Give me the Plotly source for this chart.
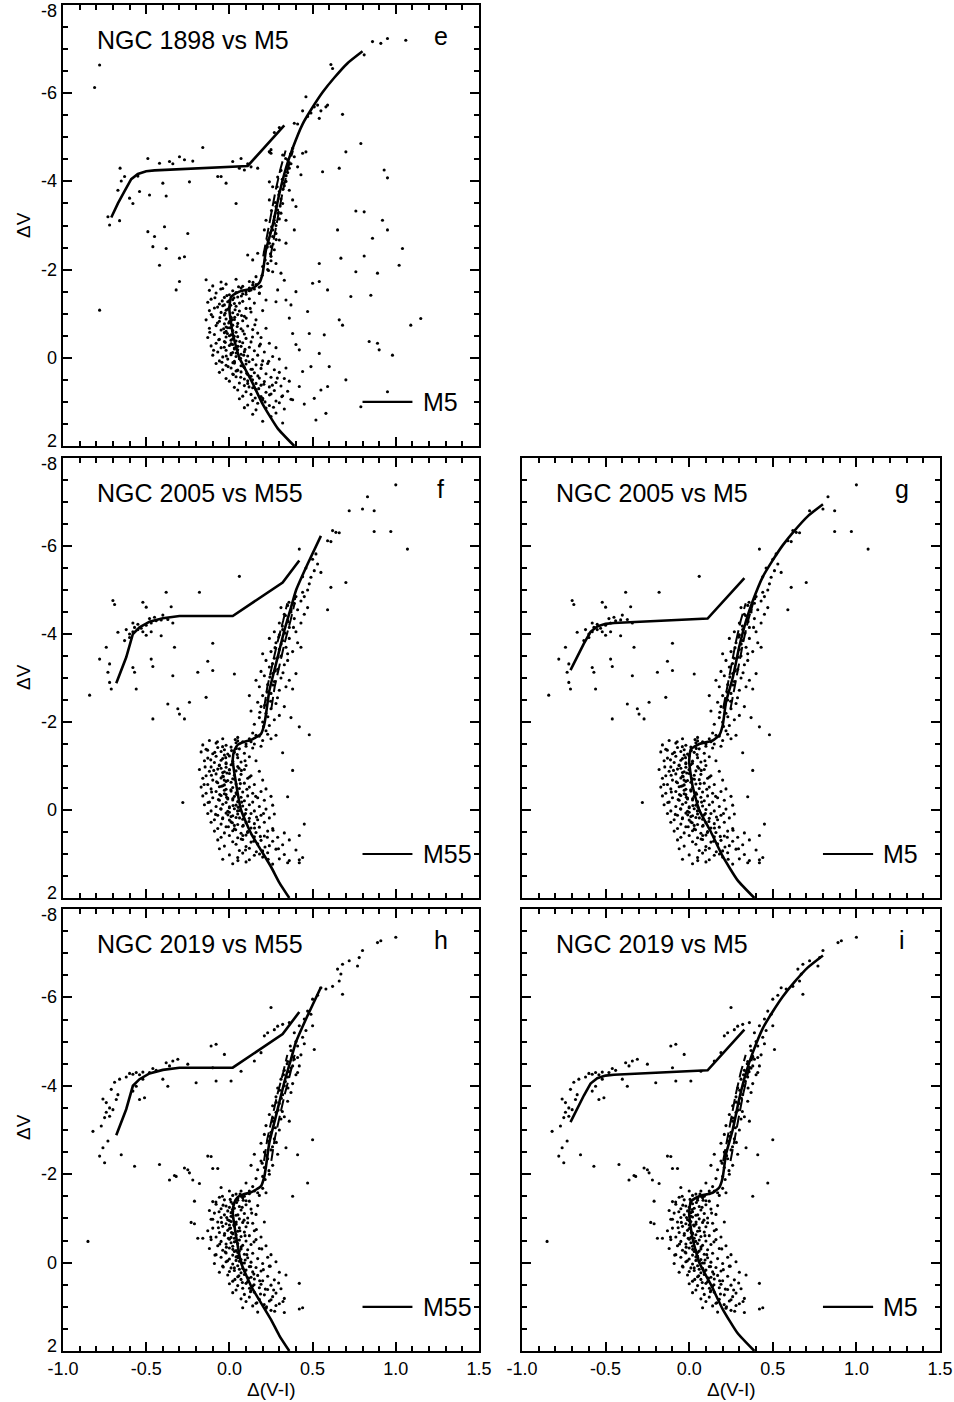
import plotly.graph_objects as go

# ---------------- fiducial sequences ----------------
m5_x = [0.39, 0.29, 0.20, 0.13, 0.06, 0.02, 0.00, 0.01, 0.06, 0.14, 0.18, 0.20, 0.22, 0.26, 0.30, 0.34, 0.38, 0.44, 0.50, 0.56, 0.63, 0.71, 0.80]
m5_y = [2.00, 1.60, 1.05, 0.50, 0.00, -0.55, -1.10, -1.38, -1.50, -1.58, -1.70, -1.92, -2.45, -3.00, -3.72, -4.30, -4.75, -5.30, -5.68, -6.02, -6.35, -6.68, -6.95]
m5_hb_x = [-0.71, -0.67, -0.63, -0.59, -0.55, -0.50, -0.45, 0.11, 0.33]
m5_hb_y = [-3.18, -3.50, -3.78, -4.05, -4.17, -4.23, -4.25, -4.35, -5.27]
m55_x = [0.36, 0.30, 0.25, 0.18, 0.13, 0.07, 0.04, 0.02, 0.03, 0.05, 0.09, 0.13, 0.19, 0.21, 0.22, 0.24, 0.28, 0.33, 0.37, 0.40, 0.47, 0.55]
m55_y = [2.00, 1.65, 1.29, 0.85, 0.53, 0.00, -0.60, -1.14, -1.36, -1.48, -1.55, -1.59, -1.73, -1.95, -2.18, -2.71, -3.32, -4.08, -4.60, -4.99, -5.59, -6.23]
m55_hb_x = [-0.68, -0.62, -0.58, -0.54, -0.48, -0.40, -0.30, 0.02, 0.32, 0.42]
m55_hb_y = [-2.88, -3.47, -4.00, -4.15, -4.28, -4.36, -4.41, -4.41, -5.17, -5.67]
# cluster RGB ridge (dashed pair)
ridge_y = [-2.3, -2.8, -3.3, -3.8, -4.3, -4.7]
ridge_m5_x = [0.225, 0.25, 0.275, 0.30, 0.33, 0.36]
ridge_m55_x = [0.23, 0.25, 0.28, 0.31, 0.345, 0.37]

# ---------------- NGC 1898 stars ----------------
n1898_ms = [(-0.14,-1.77),(-0.05,-1.72),(0.04,-1.78),(0.12,-1.73),(-0.10,-1.63),(-0.02,-1.67),(0.08,-1.62),(0.16,-1.66),
(-0.12,-1.53),(-0.04,-1.57),(0.02,-1.52),(0.07,-1.58),(0.13,-1.54),(-0.08,-1.47),(0.00,-1.43),(0.04,-1.48),(0.10,-1.44),(0.18,-1.47),
(-0.11,-1.33),(-0.03,-1.37),(0.02,-1.32),(0.05,-1.38),(0.12,-1.34),(-0.13,-1.26),(-0.06,-1.22),(-0.01,-1.27),(0.03,-1.23),(0.08,-1.28),(0.15,-1.24),
(-0.09,-1.13),(-0.04,-1.18),(0.00,-1.14),(0.04,-1.17),(0.10,-1.12),(-0.12,-1.07),(-0.05,-1.03),(-0.02,-1.08),(0.02,-1.02),(0.06,-1.06),(0.13,-1.04),(0.20,-1.07),
(-0.10,-0.93),(-0.03,-0.97),(0.01,-0.92),(0.05,-0.98),(0.09,-0.94),(-0.14,-0.86),(-0.06,-0.83),(-0.02,-0.88),(0.00,-0.82),(0.03,-0.87),(0.08,-0.84),(0.16,-0.86),
(-0.08,-0.73),(-0.03,-0.77),(0.02,-0.74),(0.05,-0.78),(0.11,-0.72),(-0.12,-0.67),(-0.05,-0.63),(-0.01,-0.68),(0.02,-0.62),(0.07,-0.66),(0.14,-0.64),(0.22,-0.67),
(-0.09,-0.53),(-0.03,-0.57),(0.01,-0.52),(0.04,-0.58),(0.09,-0.54),(0.17,-0.56),(-0.13,-0.46),(-0.06,-0.42),(-0.02,-0.47),(0.02,-0.43),(0.05,-0.48),(0.10,-0.44),(0.19,-0.46),
(-0.08,-0.33),(-0.03,-0.37),(0.01,-0.32),(0.04,-0.38),(0.08,-0.34),(0.13,-0.36),(0.24,-0.33),(-0.11,-0.27),(-0.05,-0.23),(0.00,-0.28),(0.03,-0.22),(0.07,-0.26),(0.12,-0.24),(0.18,-0.27),(0.28,-0.23),
(-0.07,-0.13),(-0.02,-0.17),(0.02,-0.12),(0.05,-0.18),(0.09,-0.14),(0.15,-0.16),(0.21,-0.13),(-0.10,-0.06),(-0.04,-0.02),(0.01,-0.07),(0.04,-0.03),(0.07,-0.08),(0.11,-0.04),(0.17,-0.06),(0.26,-0.03),
(-0.06,0.07),(-0.01,0.03),(0.03,0.08),(0.06,0.02),(0.10,0.06),(0.14,0.04),(0.20,0.07),(0.30,0.03),(-0.08,0.13),(-0.02,0.17),(0.03,0.12),(0.07,0.18),(0.10,0.14),(0.16,0.16),(0.23,0.13),
(-0.04,0.27),(0.01,0.23),(0.05,0.28),(0.09,0.22),(0.13,0.26),(0.19,0.24),(0.27,0.27),(0.34,0.23),(-0.06,0.33),(0.02,0.37),(0.07,0.32),(0.11,0.38),(0.15,0.34),(0.22,0.36),(0.30,0.33),
(-0.02,0.47),(0.04,0.43),(0.09,0.48),(0.13,0.42),(0.18,0.46),(0.25,0.44),(0.33,0.47),(0.00,0.53),(0.06,0.57),(0.11,0.52),(0.16,0.58),(0.21,0.54),(0.28,0.56),(0.36,0.53),
(0.03,0.67),(0.09,0.63),(0.14,0.68),(0.19,0.62),(0.24,0.66),(0.31,0.64),(0.05,0.73),(0.10,0.77),(0.16,0.72),(0.22,0.78),(0.27,0.74),(0.35,0.76),
(0.08,0.87),(0.13,0.83),(0.19,0.88),(0.25,0.82),(0.32,0.86),(0.06,0.93),(0.14,0.97),(0.20,0.92),(0.28,0.98),(0.37,0.94),(0.11,1.07),(0.17,1.03),(0.24,1.08),(0.30,1.02),
(0.09,1.13),(0.16,1.18),(0.22,1.14),(0.33,1.16),(0.14,1.28),(0.25,1.33),(0.20,1.44),(0.32,1.48),
(0.00,-1.30),(-0.01,-1.10),(0.01,-0.90),(-0.02,-0.70),(0.00,-0.50),(0.02,-0.30),(0.01,-0.10),(0.03,0.10),(0.04,0.30),(-0.03,-1.20),(-0.02,-0.60),(0.01,-0.40),(0.03,-0.20),
(0.08,-1.45),(0.12,-1.52),(0.15,-1.56),(0.18,-1.60),(0.10,-1.50)]
n1898_core = [(-0.015,-1.41),(0.027,-1.36),(-0.043,-1.29),(0.061,-1.24),(0.008,-1.19),(-0.071,-1.15),(0.034,-1.09),(-0.026,-1.01),(0.073,-0.96),(-0.057,-0.91),(0.016,-0.86),
(-0.004,-0.79),(0.047,-0.71),(-0.035,-0.66),(0.081,-0.61),(-0.012,-0.55),(0.029,-0.49),(-0.064,-0.41),(0.062,-0.37),(0.012,-0.31),(-0.031,-0.24),(0.094,-0.19),(0.041,-0.11),(-0.019,-0.04),
(0.067,0.01),(0.118,0.09),(0.021,0.11),(0.083,0.19),(0.138,0.26),(0.046,0.29),(0.104,0.35),(0.171,0.41),(0.068,0.44),(0.139,0.50),(0.207,0.60),(0.118,0.66),(0.176,0.70),(0.241,0.84),
(0.155,0.91),(0.214,1.00),(0.265,1.12),(-0.087,-1.36),(-0.109,-0.98),(-0.118,-0.58),(-0.095,-0.17),(0.153,-0.75),(0.186,-0.31),(0.236,0.08),(0.288,0.46),(0.315,0.88),(0.125,-1.12),
(-0.052,-1.56),(0.055,-1.61),(0.139,-0.47),(0.101,-0.90),(0.003,-0.68),(0.051,-0.26),(-0.045,0.10),(0.072,-1.40),(-0.025,-0.35),(0.032,-0.92),(0.086,-0.06),(-0.008,0.20),(0.024,0.38),
(0.194,0.16),(0.258,0.62),(0.200,0.95),(0.280,1.25),(0.110,0.58),(-0.072,-0.79)]
n1898_rgb = [(0.25,-4.64),(0.32,-4.60),(0.35,-4.49),(0.39,-4.56),(0.41,-4.33),(0.43,-4.15),(0.44,-4.64),(0.46,-4.67),(0.24,-3.99),(0.26,-3.88),(0.29,-4.10),(0.36,-3.80),
(0.38,-3.58),(0.40,-3.43),(0.24,-3.58),(0.28,-3.43),(0.31,-3.28),(0.34,-3.12),(0.39,-2.90),(0.22,-3.12),(0.21,-2.90),(0.23,-2.67),(0.25,-2.52),(0.28,-2.82),(0.30,-2.67),(0.34,-2.60),
(0.11,-2.33),(0.14,-2.22),(0.17,-2.37),(0.20,-2.07),(0.23,-2.14),(0.26,-1.95),(0.28,-2.14),(0.31,-1.92),(0.16,-1.84),(0.14,-1.65),(0.18,-1.46),(0.22,-1.31),(0.29,-1.54),(0.28,-1.27),
(0.34,-1.31),(0.33,-1.76),(0.254,-2.97),(0.27,-3.20),(0.30,-3.77),(0.32,-3.96),(0.27,-2.45),(0.26,-2.75),(0.27,-3.05),(0.29,-3.35),(0.31,-3.60),(0.33,-3.90),(0.35,-4.20),(0.37,-4.40),
(0.25,-2.30),(0.24,-2.60),(0.26,-2.90),(0.28,-3.00),(0.30,-3.15),(0.32,-3.50),(0.34,-4.00),(0.36,-4.30),(0.38,-4.75),(0.21,-2.40),(0.23,-2.00),(0.25,-2.20),
(0.235,-1.98),(0.247,-2.36),(0.262,-2.58),(0.243,-2.83),(0.281,-2.68),(0.269,-3.12),(0.292,-3.28),(0.276,-3.52),(0.305,-3.44),(0.297,-3.70),(0.322,-3.82),(0.318,-4.05),(0.341,-4.13),
(0.352,-4.37),(0.338,-4.52),(0.367,-4.62),(0.215,-2.22),(0.228,-2.51),(0.253,-3.34),(0.287,-3.88),(0.310,-4.25),(0.197,-1.87),(0.142,-1.71),(0.190,-1.62),(0.120,-1.58)]
n1898_hb = [(-0.657,-4.30),(-0.65,-4.01),(-0.67,-3.80),(-0.63,-4.11),(-0.60,-3.62),(-0.58,-3.50),(-0.54,-3.77),(-0.48,-3.69),(-0.49,-4.52),(-0.38,-3.67),(-0.36,-4.45),(-0.34,-4.40),
(-0.30,-4.56),(-0.27,-4.49),(-0.24,-3.99),(-0.22,-4.46),(-0.16,-4.77),(-0.07,-4.11),(-0.05,-4.11),(-0.02,-3.96),(0.02,-4.45),(0.07,-4.52),(0.06,-4.30),(0.09,-4.26),(0.13,-4.33),
(0.17,-4.30),(0.24,-4.67),(0.04,-3.50),(-0.42,-4.41),(-0.40,-3.96),(-0.55,-4.12),(0.11,-4.40),(-0.72,-3.01),(-0.66,-3.11)]
n1898_upper = [(0.27,-5.11),(0.30,-5.22),(0.39,-5.32),(0.41,-5.30),(0.44,-5.60),(0.46,-5.92),(0.47,-5.47),(0.49,-5.55),(0.51,-5.69),(0.53,-5.73),(0.54,-5.43),(0.55,-5.60),
(0.58,-5.69),(0.59,-5.73),(0.61,-6.65),(0.62,-6.56),(0.68,-5.52),(0.81,-6.87),(0.86,-7.17),(0.91,-7.13),(0.95,-7.24),(1.06,-7.20),(0.24,-4.67),(0.25,-4.72)]
n1898_field = [(-0.78,-6.64),(-0.81,-6.13),(-0.73,-3.20),(-0.78,-1.08),(0.70,-4.67),(0.76,-3.33),(0.79,-4.86),(0.93,-4.26),(0.95,-4.08),(0.66,-4.30),(0.56,-4.22),(0.92,-3.12),
(0.81,-3.31),(0.95,-2.90),(0.65,-2.90),(0.86,-2.71),(1.04,-2.48),(0.67,-2.26),(0.81,-2.31),(1.02,-2.10),(0.54,-2.14),(0.76,-1.95),(0.89,-1.92),(0.54,-1.73),(0.50,-1.69),(0.59,-1.54),
(0.73,-1.39),(0.85,-1.42),(0.47,-1.05),(0.66,-0.86),(0.68,-0.74),(1.09,-0.74),(1.15,-0.89),(0.48,-0.55),(0.57,-0.52),(0.84,-0.37),(0.89,-0.33),(0.90,-0.18),(0.98,-0.06),(0.54,-0.10),
(0.42,-0.18),(0.44,0.31),(0.49,0.20),(0.60,0.20),(0.70,0.50),(0.59,0.65),(0.55,0.73),(0.51,0.92),(0.58,1.26),(0.52,1.41),(0.95,0.77),(0.79,1.11),(-0.49,-2.86),(-0.45,-2.75),
(-0.46,-2.52),(-0.39,-2.97),(-0.38,-2.48),(-0.42,-2.10),(-0.30,-2.26),(-0.27,-2.29),(-0.25,-2.82),(-0.30,-1.73),(-0.32,-1.54),(0.38,-0.55),(0.40,-0.30),(0.36,-0.90),(0.42,0.65),
(0.38,0.95),(0.45,1.05),(0.37,-1.20),(0.40,-1.50)]

# ---------------- NGC 2005 stars ----------------
n2005_ms = [(-0.12,-1.58),(-0.04,-1.62),(0.05,-1.57),(-0.16,-1.48),(-0.08,-1.52),(-0.02,-1.47),(0.04,-1.53),(0.10,-1.50),(-0.14,-1.38),(-0.07,-1.42),(-0.03,-1.37),(0.01,-1.43),(0.06,-1.39),(0.14,-1.41),
(-0.17,-1.32),(-0.10,-1.28),(-0.05,-1.33),(-0.01,-1.27),(0.03,-1.31),(0.09,-1.29),(-0.13,-1.18),(-0.08,-1.22),(-0.04,-1.17),(0.00,-1.23),(0.05,-1.19),(0.12,-1.21),
(-0.15,-1.12),(-0.09,-1.08),(-0.05,-1.13),(-0.02,-1.07),(0.02,-1.11),(0.07,-1.09),(0.16,-1.12),(-0.11,-0.98),(-0.06,-1.02),(-0.02,-0.97),(0.01,-1.03),(0.05,-0.99),(0.10,-1.01),
(-0.18,-0.92),(-0.12,-0.88),(-0.07,-0.93),(-0.03,-0.87),(0.00,-0.91),(0.04,-0.89),(0.09,-0.92),(0.18,-0.88),(-0.14,-0.78),(-0.08,-0.82),(-0.04,-0.77),(0.00,-0.83),(0.03,-0.79),(0.07,-0.81),(0.13,-0.78),
(-0.16,-0.72),(-0.10,-0.68),(-0.05,-0.73),(-0.01,-0.67),(0.02,-0.71),(0.06,-0.69),(0.11,-0.72),(0.20,-0.68),(-0.13,-0.58),(-0.07,-0.62),(-0.03,-0.57),(0.01,-0.63),(0.04,-0.59),(0.09,-0.61),(0.15,-0.58),
(-0.17,-0.52),(-0.11,-0.48),(-0.06,-0.53),(-0.02,-0.47),(0.02,-0.51),(0.06,-0.49),(0.12,-0.52),(0.22,-0.48),(-0.14,-0.38),(-0.08,-0.42),(-0.03,-0.37),(0.01,-0.43),(0.04,-0.39),(0.08,-0.41),(0.14,-0.38),(0.19,-0.42),
(-0.16,-0.32),(-0.10,-0.28),(-0.05,-0.33),(-0.01,-0.27),(0.03,-0.31),(0.07,-0.29),(0.11,-0.32),(0.17,-0.28),(0.25,-0.31),(-0.12,-0.18),(-0.06,-0.22),(-0.02,-0.17),(0.02,-0.23),(0.05,-0.19),(0.09,-0.21),(0.14,-0.18),(0.21,-0.22),
(-0.15,-0.12),(-0.08,-0.08),(-0.04,-0.13),(0.00,-0.07),(0.04,-0.11),(0.08,-0.09),(0.12,-0.12),(0.18,-0.08),(0.26,-0.11),(-0.11,0.02),(-0.05,-0.02),(-0.01,0.03),(0.03,-0.03),(0.06,0.01),(0.10,-0.01),(0.15,0.02),(0.22,-0.02),
(-0.13,0.08),(-0.07,0.12),(-0.02,0.07),(0.02,0.13),(0.05,0.09),(0.09,0.11),(0.13,0.08),(0.19,0.12),(0.27,0.09),(-0.09,0.22),(-0.04,0.18),(0.00,0.23),(0.04,0.17),(0.08,0.21),(0.12,0.19),(0.17,0.22),(0.24,0.18),
(-0.11,0.28),(-0.05,0.32),(0.01,0.27),(0.05,0.33),(0.10,0.29),(0.15,0.31),(0.21,0.28),(-0.07,0.42),(-0.02,0.38),(0.03,0.43),(0.08,0.37),(0.13,0.41),(0.18,0.39),(0.26,0.42),
(-0.09,0.48),(-0.03,0.52),(0.02,0.47),(0.07,0.53),(0.11,0.49),(0.16,0.51),(0.23,0.48),(0.33,0.52),(-0.05,0.62),(0.00,0.58),(0.05,0.63),(0.10,0.57),(0.15,0.61),(0.21,0.59),(0.29,0.62),
(-0.07,0.68),(0.02,0.72),(0.08,0.67),(0.13,0.73),(0.19,0.69),(0.26,0.71),(0.36,0.68),(-0.03,0.82),(0.04,0.78),(0.10,0.83),(0.17,0.77),(0.24,0.81),(0.32,0.79),
(-0.06,0.88),(0.06,0.92),(0.12,0.87),(0.20,0.93),(0.28,0.89),(0.40,0.91),(0.00,1.02),(0.08,0.98),(0.15,1.03),(0.23,0.97),(0.33,1.01),(-0.04,1.12),(0.05,1.08),(0.12,1.13),(0.20,1.07),(0.30,1.11),(0.42,1.13),
(0.02,1.22),(0.10,1.18),(0.26,1.23),(0.35,1.20),(-0.03,-1.25),(-0.02,-1.05),(-0.04,-0.85),(-0.02,-0.65),(-0.03,-0.45),(-0.01,-0.25),(0.00,-0.05),(0.01,0.15),(0.03,0.35),(-0.05,-0.95),(-0.04,-0.55),(-0.02,-0.35),(0.00,0.05)]
n2005_core = [(-0.041,-1.44),(0.013,-1.35),(-0.088,-1.31),(0.047,-1.26),(-0.022,-1.19),(-0.112,-1.14),(0.019,-1.06),(-0.061,-1.01),(0.058,-0.95),(-0.094,-0.90),(-0.015,-0.84),
(-0.036,-0.76),(0.031,-0.70),(-0.077,-0.64),(0.066,-0.60),(-0.048,-0.54),(0.009,-0.46),(-0.107,-0.41),(0.044,-0.36),(-0.017,-0.29),(-0.066,-0.24),(0.074,-0.18),(0.022,-0.10),(-0.052,-0.03),
(0.049,0.02),(0.097,0.08),(-0.009,0.11),(0.061,0.18),(0.118,0.26),(0.018,0.29),(0.083,0.35),(0.151,0.41),(0.038,0.45),(0.109,0.51),(0.186,0.60),(0.071,0.66),(0.146,0.71),(0.214,0.84),
(0.097,0.91),(0.181,1.00),(0.233,1.12),(-0.131,-1.36),(-0.146,-0.98),(-0.152,-0.58),(-0.128,-0.17),(0.121,-0.75),(0.158,-0.31),(0.205,0.08),(0.262,0.46),(0.295,0.88),(0.094,-1.12),
(-0.072,-1.55),(0.035,-1.60),(0.105,-0.47),(0.072,-0.90),(-0.031,-0.68),(0.021,-0.26),(-0.083,0.10),(0.042,-1.40),(-0.058,-0.35),(0.000,-0.92),(0.053,-0.06),(-0.041,0.20),(-0.006,0.38),
(0.163,0.16),(0.228,0.62),(0.162,0.95),(0.051,1.15),(0.081,0.58),(-0.108,-0.79)]
n2005_rgb = [(0.08,-1.55),(0.12,-1.62),(0.15,-1.50),(0.18,-1.68),(0.20,-1.58),(0.10,-1.45),(0.14,-1.75),(0.22,-1.80),(0.25,-1.62),(0.05,-1.65),(0.28,-1.70),(0.19,-1.45),
(0.15,-1.95),(0.20,-2.00),(0.24,-1.92),(0.18,-2.10),(0.22,-2.20),(0.27,-2.05),(0.13,-2.25),(0.19,-2.35),(0.25,-2.30),(0.30,-2.15),(0.17,-2.45),(0.23,-2.50),(0.28,-2.42),(0.33,-2.35),(0.12,-2.60),(0.37,-2.10),
(0.20,-2.60),(0.25,-2.65),(0.30,-2.72),(0.18,-2.80),(0.23,-2.85),(0.27,-2.92),(0.34,-2.80),(0.16,-2.95),(0.21,-3.05),(0.26,-3.10),(0.31,-3.00),(0.36,-2.95),(0.38,-2.75),(0.24,-3.25),(0.29,-3.20),(0.33,-3.30),(0.19,-3.15),(0.40,-3.10),
(0.22,-3.40),(0.27,-3.45),(0.31,-3.50),(0.35,-3.40),(0.25,-3.60),(0.30,-3.65),(0.34,-3.70),(0.38,-3.60),(0.20,-3.55),(0.28,-3.80),(0.32,-3.85),(0.36,-3.90),(0.41,-3.80),(0.24,-3.90),(0.30,-3.98),(0.43,-3.70),
(0.27,-4.05),(0.32,-4.10),(0.36,-4.15),(0.40,-4.05),(0.30,-4.25),(0.35,-4.30),(0.39,-4.35),(0.43,-4.25),(0.33,-4.45),(0.37,-4.50),(0.41,-4.55),(0.45,-4.45),(0.35,-4.65),(0.39,-4.70),(0.43,-4.75),(0.47,-4.60),(0.31,-4.60),(0.40,-4.85),(0.44,-4.95),
(0.205,-1.90),(0.231,-2.12),(0.212,-2.38),(0.248,-2.47),(0.226,-2.68),(0.262,-2.84),(0.243,-3.02),(0.276,-3.16),(0.259,-3.33),(0.292,-3.47),(0.274,-3.69),(0.311,-3.77),(0.296,-3.93),
(0.334,-4.02),(0.318,-4.18),(0.352,-4.28),(0.337,-4.42),(0.371,-4.55),(0.358,-4.72),(0.392,-4.80),(0.183,-2.22),(0.289,-2.55),(0.322,-3.12),(0.350,-3.55),(0.385,-4.15),(0.160,-1.70),(0.130,-1.55),(0.230,-1.72)]
n2005_hb = [(-0.60,-4.00),(-0.58,-4.05),(-0.55,-4.10),(-0.53,-4.13),(-0.50,-4.20),(-0.47,-4.25),(-0.44,-4.30),(-0.41,-4.32),(-0.57,-4.15),(-0.52,-4.05),(-0.48,-4.35),(-0.60,-3.92),(-0.63,-3.85),
(-0.55,-4.22),(-0.50,-3.97),(-0.45,-4.38),(-0.40,-4.43),(-0.37,-4.33),(-0.34,-4.25),(-0.58,-4.25),(-0.62,-4.10),(-0.47,-4.05),(-0.70,-4.76),(-0.69,-4.67),(-0.52,-4.72),(-0.50,-4.61),(-0.35,-4.62),
(-0.38,-4.95),(-0.18,-4.95),(0.06,-5.31),(-0.67,-4.04),(-0.74,-3.70),(-0.78,-3.43),(-0.72,-3.32),(-0.73,-3.13),(-0.72,-2.90),(-0.71,-2.75),(-0.58,-3.24),(-0.57,-3.13),(-0.56,-2.75),(-0.47,-3.43),
(-0.46,-3.26),(-0.41,-3.96),(-0.33,-3.70),(-0.34,-3.05),(-0.10,-3.79),(-0.13,-3.38),(-0.10,-3.17),(-0.19,-3.13),(0.03,-3.09),(-0.14,-2.56),(-0.24,-2.45),(-0.31,-2.30),(-0.30,-2.18),(-0.27,-2.07),
(-0.37,-2.41),(-0.46,-2.07),(-0.84,-2.61),(-0.28,-0.17)]
n2005_upper = [(0.62,-6.35),(0.64,-6.31),(0.66,-6.30),(0.59,-6.12),(0.61,-6.10),(0.52,-5.82),(0.53,-5.59),(0.51,-5.44),(0.49,-5.29),(0.48,-5.14),(0.61,-5.06),(0.70,-5.17),(0.59,-4.55),
(0.72,-6.80),(0.80,-6.84),(0.87,-6.80),(0.83,-7.12),(1.00,-7.39),(0.87,-6.33),(0.97,-6.33),(1.07,-5.93),(0.42,-5.93),(0.46,-5.50),(0.50,-5.70),(0.44,-5.30),(0.47,-5.00),(0.45,-4.85),(0.55,-5.40)]
n2005_field = [(0.42,-1.89),(0.48,-1.71),(0.45,0.32),(0.42,0.58),(0.44,1.08),(0.42,1.20),(0.35,-0.30),(0.38,-0.90),(0.32,-1.30),(0.36,1.15)]

# ---------------- NGC 2019 stars ----------------
n2019_ms = [(-0.06,-1.48),(0.02,-1.52),(0.08,-1.47),(-0.10,-1.38),(-0.03,-1.42),(0.01,-1.37),(0.05,-1.41),(0.12,-1.39),(-0.08,-1.32),(-0.02,-1.28),(0.02,-1.33),(0.06,-1.27),(0.10,-1.31),(0.17,-1.29),
(-0.12,-1.18),(-0.05,-1.22),(-0.01,-1.17),(0.03,-1.23),(0.07,-1.19),(0.13,-1.21),(-0.09,-1.12),(-0.03,-1.08),(0.01,-1.13),(0.04,-1.07),(0.09,-1.11),(0.16,-1.09),
(-0.11,-0.98),(-0.05,-1.02),(-0.01,-0.97),(0.02,-1.03),(0.06,-0.99),(0.11,-1.01),(-0.07,-0.92),(-0.02,-0.88),(0.01,-0.93),(0.04,-0.87),(0.08,-0.91),(0.14,-0.89),(0.21,-0.92),
(-0.10,-0.78),(-0.04,-0.82),(0.00,-0.77),(0.03,-0.83),(0.06,-0.79),(0.10,-0.81),(-0.13,-0.72),(-0.06,-0.68),(-0.01,-0.73),(0.02,-0.67),(0.05,-0.71),(0.09,-0.69),(0.15,-0.72),
(-0.08,-0.58),(-0.03,-0.62),(0.01,-0.57),(0.04,-0.63),(0.07,-0.59),(0.12,-0.61),(0.19,-0.58),(-0.11,-0.52),(-0.05,-0.48),(0.00,-0.53),(0.03,-0.47),(0.06,-0.51),(0.10,-0.49),(0.16,-0.52),
(-0.07,-0.38),(-0.02,-0.42),(0.02,-0.37),(0.05,-0.43),(0.08,-0.39),(0.13,-0.41),(0.22,-0.38),(-0.12,-0.32),(-0.04,-0.28),(0.00,-0.33),(0.04,-0.27),(0.07,-0.31),(0.11,-0.29),(0.18,-0.32),
(-0.08,-0.18),(-0.02,-0.22),(0.02,-0.17),(0.05,-0.23),(0.09,-0.19),(0.14,-0.21),(0.25,-0.18),(-0.05,-0.12),(0.00,-0.08),(0.04,-0.13),(0.07,-0.07),(0.11,-0.11),(0.17,-0.09),(0.23,-0.12),
(-0.09,0.02),(-0.02,-0.02),(0.02,0.03),(0.06,-0.03),(0.09,0.01),(0.13,-0.01),(0.20,0.02),(0.28,-0.02),(-0.04,0.08),(0.01,0.12),(0.05,0.07),(0.08,0.13),(0.12,0.09),(0.16,0.11),(0.24,0.08),
(-0.06,0.22),(0.03,0.18),(0.07,0.23),(0.10,0.17),(0.14,0.21),(0.19,0.19),(0.30,0.22),(-0.01,0.28),(0.05,0.32),(0.09,0.27),(0.13,0.33),(0.17,0.29),(0.23,0.31),(0.34,0.28),
(0.02,0.42),(0.07,0.38),(0.11,0.43),(0.15,0.37),(0.20,0.41),(0.27,0.39),(0.00,0.48),(0.05,0.52),(0.10,0.47),(0.14,0.53),(0.19,0.49),(0.25,0.51),(0.42,0.47),
(0.04,0.62),(0.08,0.58),(0.13,0.63),(0.18,0.57),(0.23,0.61),(0.31,0.59),(0.02,0.68),(0.09,0.72),(0.15,0.67),(0.21,0.73),(0.28,0.69),(0.07,0.82),(0.12,0.78),(0.18,0.83),(0.26,0.77),(0.33,0.81),
(0.10,0.88),(0.16,0.92),(0.24,0.87),(0.30,0.93),(0.08,1.02),(0.14,0.98),(0.22,1.03),(0.28,0.97),(0.44,1.02),(0.42,1.05),(0.17,1.12),(0.25,1.08),(0.33,1.13),
(0.00,-1.25),(0.01,-1.05),(0.00,-0.85),(0.02,-0.65),(0.01,-0.45),(0.03,-0.25),(0.04,-0.05),(0.06,0.15),(0.02,-1.15),(0.00,-0.95),(0.03,-0.55),(0.05,-0.15)]
n2019_core = [(0.005,-1.43),(0.043,-1.36),(-0.038,-1.30),(0.077,-1.25),(0.018,-1.20),(-0.062,-1.15),(0.051,-1.08),(-0.016,-1.02),(0.088,-0.96),(-0.047,-0.91),(0.026,-0.85),
(0.007,-0.78),(0.063,-0.72),(-0.029,-0.66),(0.094,-0.61),(-0.006,-0.55),(0.039,-0.48),(-0.058,-0.42),(0.071,-0.36),(0.021,-0.30),(-0.025,-0.24),(0.105,-0.18),(0.052,-0.11),(-0.011,-0.04),
(0.079,0.01),(0.128,0.09),(0.030,0.12),(0.092,0.19),(0.147,0.26),(0.057,0.30),(0.116,0.35),(0.182,0.41),(0.078,0.45),(0.148,0.50),(0.216,0.60),(0.127,0.66),(0.187,0.71),(0.250,0.84),
(0.165,0.91),(0.223,1.00),(0.272,1.10),(-0.081,-1.37),(-0.100,-0.98),(-0.112,-0.58),(-0.087,-0.17),(0.162,-0.75),(0.195,-0.31),(0.245,0.08),(0.296,0.46),(0.322,0.88),(0.134,-1.12),
(-0.042,-1.50),(0.064,-1.55),(0.148,-0.47),(0.110,-0.90),(0.012,-0.68),(0.060,-0.26),(-0.037,0.10),(0.083,-1.41),(-0.018,-0.35),(0.041,-0.92),(0.095,-0.06),(0.000,0.20),(0.033,0.38),
(0.204,0.16),(0.266,0.62),(0.209,0.95),(0.121,0.58),(-0.066,-0.79)]
n2019_rgb = [(0.05,-1.45),(0.09,-1.50),(0.12,-1.56),(0.15,-1.62),(0.10,-1.40),(0.18,-1.52),(0.07,-1.62),(0.14,-1.72),(0.20,-1.68),(0.04,-1.55),(0.22,-1.58),(0.00,-1.62),(-0.05,-1.70),(0.10,-1.80),
(0.16,-1.90),(0.20,-1.95),(0.24,-2.00),(0.17,-2.10),(0.21,-2.15),(0.26,-2.20),(0.19,-2.30),(0.23,-2.35),(0.15,-2.45),(0.21,-2.50),(0.25,-2.55),(0.29,-2.45),(0.19,-2.70),(0.23,-2.75),(0.27,-2.80),
(0.21,-2.90),(0.25,-2.95),(0.30,-3.00),(0.22,-3.10),(0.26,-3.20),(0.31,-3.25),(0.24,-3.35),(0.28,-3.40),(0.33,-3.30),(0.26,-3.55),(0.30,-3.60),(0.35,-3.65),(0.28,-3.75),(0.32,-3.80),(0.37,-3.85),
(0.29,-3.95),(0.33,-4.00),(0.38,-4.05),(0.31,-4.15),(0.35,-4.20),(0.40,-4.25),(0.33,-4.35),(0.37,-4.40),(0.42,-4.45),(0.35,-4.55),(0.39,-4.60),(0.43,-4.70),(0.37,-4.80),(0.41,-4.90),(0.45,-4.95),
(0.34,-2.60),(0.13,-2.20),(0.36,-3.20),
(0.215,-1.88),(0.238,-2.08),(0.224,-2.42),(0.259,-2.62),(0.241,-2.86),(0.276,-3.05),(0.262,-3.27),(0.293,-3.45),(0.281,-3.63),(0.312,-3.72),(0.302,-3.90),(0.336,-4.10),(0.325,-4.25),
(0.358,-4.32),(0.347,-4.50),(0.381,-4.65),(0.366,-4.90),(0.400,-5.00),(0.197,-2.25),(0.282,-2.72),(0.318,-3.42),(0.352,-3.95),(0.120,-1.62),(0.170,-1.58),(0.070,-1.50)]
n2019_hb = [(-0.69,-4.08),(-0.71,-3.92),(-0.74,-3.62),(-0.70,-3.46),(-0.72,-3.31),(-0.75,-3.28),(-0.68,-3.69),(-0.67,-3.80),(-0.82,-2.97),(-0.77,-3.09),(-0.76,-2.60),(-0.78,-2.41),(-0.75,-2.26),
(-0.65,-2.44),(-0.57,-2.18),(-0.58,-3.88),(-0.56,-3.99),(-0.54,-3.69),(-0.51,-3.73),(-0.52,-4.15),(-0.58,-4.26),(-0.56,-4.30),(-0.52,-4.31),(-0.48,-4.30),(-0.46,-4.39),(-0.40,-4.15),(-0.38,-4.52),
(-0.36,-4.45),(-0.34,-4.56),(-0.37,-3.99),(-0.31,-4.60),(-0.25,-4.49),(-0.20,-4.07),(-0.11,-4.90),(-0.08,-4.94),(-0.10,-4.41),(-0.08,-4.11),(-0.03,-4.71),(0.01,-4.11),(0.07,-4.33),(0.15,-4.56),
(0.19,-4.75),(0.21,-5.13),(0.23,-5.20),(0.25,-5.77),(0.27,-5.27),(0.29,-5.35),(0.32,-5.39),(0.36,-5.43),(-0.72,-3.50),(-0.74,-3.40),(-0.66,-4.15),(-0.62,-4.20),(-0.60,-4.28),(-0.54,-4.25),
(-0.44,-4.35),(-0.76,-3.70),(-0.73,-2.75)]
n2019_upper = [(0.50,-5.96),(0.47,-5.69),(0.49,-5.62),(0.45,-5.51),(0.42,-5.36),(0.39,-5.20),(0.50,-5.36),(0.51,-4.82),(0.41,-4.64),(0.38,-4.45),(0.41,-4.30),(0.55,-6.22),(0.58,-6.19),
(0.62,-6.25),(0.66,-6.37),(0.67,-6.53),(0.65,-6.64),(0.68,-6.75),(0.72,-6.83),(0.78,-6.90),(0.77,-6.71),(0.80,-7.06),(0.89,-7.24),(0.91,-7.28),(1.00,-7.36),(0.68,-6.07),(0.44,-5.10),(0.46,-5.25),(0.53,-6.05)]
n2019_field = [(-0.36,-1.87),(-0.33,-1.97),(-0.25,-2.10),(-0.22,-1.87),(-0.18,-1.79),(-0.21,-0.88),(-0.19,-0.55),(-0.16,-0.55),(-0.11,-2.40),(-0.10,-2.13),(-0.07,-2.13),(-0.42,-2.22),
(-0.32,-1.95),(-0.27,-2.14),(-0.24,-2.03),(-0.21,-1.39),(-0.23,-0.91),(-0.85,-0.48),(-0.13,-2.41),(0.50,-2.78),(0.41,-2.44),(0.47,-1.80),(0.38,-1.50)]

n1898 = n1898_ms + n1898_core + n1898_rgb + n1898_hb + n1898_upper + n1898_field
n2005 = n2005_ms + n2005_core + n2005_rgb + n2005_hb + n2005_upper + n2005_field
n2019 = n2019_ms + n2019_core + n2019_rgb + n2019_hb + n2019_upper + n2019_field

x_ticks = [-1.0, -0.5, 0.0, 0.5, 1.0, 1.5]
x_ticktext = ["-1.0", "-0.5", "0.0", "0.5", "1.0", "1.5"]
y_ticks = [-8, -6, -4, -2, 0, 2]
y_ticktext = ["-8", "-6", "-4", "-2", "0", "2"]

W, H = 954, 1402
colL = (63 / W, 479 / W)
colR = (522 / W, 940 / W)
row1 = (1 - 446 / H, 1 - 5 / H)
row2 = (1 - 898 / H, 1 - 458 / H)
row3 = (1 - 1351 / H, 1 - 909 / H)

panels = [
    ("e", colL, row1, "NGC 1898 vs M5", "M5", n1898, True, False),
    ("f", colL, row2, "NGC 2005 vs M55", "M55", n2005, True, False),
    ("g", colR, row2, "NGC 2005 vs M5", "M5", n2005, False, False),
    ("h", colL, row3, "NGC 2019 vs M55", "M55", n2019, True, True),
    ("i", colR, row3, "NGC 2019 vs M5", "M5", n2019, False, True),
]

FONT = "Liberation Sans, Arial, Helvetica, sans-serif"
fig = go.Figure()
annotations = []
for k, (lab, dx, dy, title, ref, stars, ylab, xlab) in enumerate(panels, 1):
    xr = "x" if k == 1 else f"x{k}"
    yr = "y" if k == 1 else f"y{k}"
    fig.add_trace(go.Scatter(x=[s[0] for s in stars], y=[s[1] for s in stars], mode="markers",
                             marker=dict(size=3.1, color="black", line=dict(width=0)),
                             xaxis=xr, yaxis=yr, showlegend=False, hoverinfo="skip"))
    if ref == "M5":
        fx, fy, hx, hy, rx = m5_x, m5_y, m5_hb_x, m5_hb_y, ridge_m5_x
    else:
        fx, fy, hx, hy, rx = m55_x, m55_y, m55_hb_x, m55_hb_y, ridge_m55_x
    for off in (-0.022, 0.022):
        fig.add_trace(go.Scatter(x=[v + off for v in rx], y=ridge_y, mode="lines",
                                 line=dict(color="black", width=2, dash="12px,5px"),
                                 xaxis=xr, yaxis=yr, showlegend=False, hoverinfo="skip"))
    fig.add_trace(go.Scatter(x=fx, y=fy, mode="lines", line=dict(color="black", width=2.6, shape="spline", smoothing=0.5),
                             xaxis=xr, yaxis=yr, showlegend=False, hoverinfo="skip"))
    fig.add_trace(go.Scatter(x=hx, y=hy, mode="lines", line=dict(color="black", width=2.6),
                             xaxis=xr, yaxis=yr, showlegend=False, hoverinfo="skip"))
    # legend sample line
    fig.add_trace(go.Scatter(x=[0.80, 1.10], y=[1.0, 1.0], mode="lines", line=dict(color="black", width=2.2),
                             xaxis=xr, yaxis=yr, showlegend=False, hoverinfo="skip"))
    annotations.append(dict(x=1.15, y=1.0, xref=xr, yref=yr, text=ref, showarrow=False,
                            xanchor="left", yanchor="middle", font=dict(size=25, color="black", family=FONT)))
    annotations.append(dict(x=-0.81, y=-7.2, xref=xr, yref=yr, text=title, showarrow=False,
                            xanchor="left", yanchor="middle", font=dict(size=25, color="black", family=FONT)))
    annotations.append(dict(x=1.27, y=-7.3, xref=xr, yref=yr, text=lab, showarrow=False,
                            xanchor="center", yanchor="middle", font=dict(size=25, color="black", family=FONT)))
    # y tick labels (end labels sit inside the frame, as in the original)
    if ylab:
        for v, t in zip(y_ticks, y_ticktext):
            shift = -6 if v == -8 else (5 if v == 2 else 0)
            annotations.append(dict(x=0, y=v, xref=f"{xr} domain", yref=yr, text=t, showarrow=False,
                                    xanchor="right", yanchor="middle", xshift=-4, yshift=shift,
                                    font=dict(size=18, color="black", family=FONT)))

    common = dict(showline=True, linewidth=2, linecolor="black", mirror="ticks", ticks="inside",
                  ticklen=9, tickwidth=2, tickcolor="black", showgrid=False, zeroline=False, automargin=False,
                  tickfont=dict(size=18, color="black", family=FONT))
    fig.layout["xaxis" if k == 1 else f"xaxis{k}"] = dict(
        domain=list(dx), anchor=yr, range=[-1.0, 1.5], tickmode="array", tickvals=x_ticks, ticktext=x_ticktext,
        showticklabels=xlab, minor=dict(tickmode="linear", tick0=0, dtick=0.1, ticks="inside", ticklen=5, tickwidth=1.5, tickcolor="black"),
        **common)
    fig.layout["yaxis" if k == 1 else f"yaxis{k}"] = dict(
        domain=list(dy), anchor=xr, range=[2, -8], tickmode="array", tickvals=y_ticks, ticktext=y_ticktext,
        showticklabels=False, minor=dict(tickmode="linear", tick0=0, dtick=0.5, ticks="inside", ticklen=5, tickwidth=1.5, tickcolor="black"),
        **common)

# axis titles
for py in (225, 677, 1127):
    annotations.append(dict(x=23 / W, y=1 - py / H, xref="paper", yref="paper", text="ΔV", showarrow=False,
                            textangle=-90, xanchor="center", yanchor="middle", font=dict(size=19, color="black", family=FONT)))
for px in (271, 731):
    annotations.append(dict(x=px / W, y=1 - 1389 / H, xref="paper", yref="paper", text="Δ(V-I)", showarrow=False,
                            xanchor="center", yanchor="middle", font=dict(size=19, color="black", family=FONT)))

fig.update_layout(width=W, height=H, margin=dict(l=0, r=0, t=0, b=0), paper_bgcolor="white",
                  plot_bgcolor="white", annotations=annotations, showlegend=False)
fig.write_html("out.html")
